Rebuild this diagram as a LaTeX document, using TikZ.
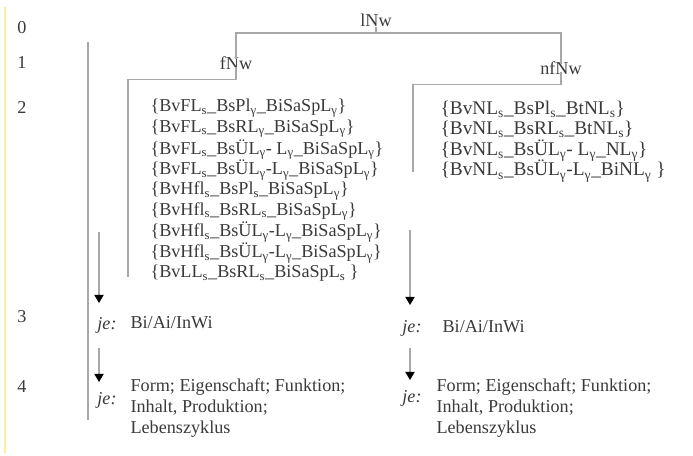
\documentclass[tikz,border=0pt]{standalone}
\usepackage{fontspec}
\setmainfont{Liberation Serif}
\usepackage{xcolor}
\definecolor{LINEcolor}{HTML}{a8a8a8}
\definecolor{TXTcolor}{HTML}{3a3a3a}
\definecolor{MARGINcolor}{HTML}{fbf0a0}
\usepackage{tikz}
\usetikzlibrary{%
    calc,
    math,
    arrows.meta
}
\newcommand{\sbs}[1]{\textsubscript{#1}}

\begin{document}
\begin{tikzpicture}[x=0.03cm, y=-0.03cm, line width=1pt,
    every node/.style={text=TXTcolor, inner sep=0pt, font=\fontsize{15.5}{17.7}\selectfont},
    tree/.style={draw=LINEcolor},
    arr/.style={draw=LINEcolor, -{Triangle[black, width=8pt, length=7pt]}}]
    \tikzmath{%
        \xnum=22;
        \xmain=88;
        % Listen links und rechts
        \xfl=128;
        \xft=150;
        \xnfl=413;
        \xnft=440;
        \ylist=108;
        \dline=20.7;
        % Pfeile
        \xal=99;
        \xar=410;
    };

    \useasboundingbox (0, 0) rectangle (693, 456);
    \draw [MARGINcolor, line width=1.5pt] (5, 7) -- (5, 453);

    % Ebenen
    \foreach \n/\y in {0/28, 1/63, 2/107, 3/317, 4/387} {%
            \node (lvl\n) at (\xnum, \y) {\n};
        }
    \coordinate (mainTop) at (\xmain, 42);
    \coordinate (mainBot) at (\xmain, 420);
    \draw [tree] (mainTop) -- (mainBot);

    % Baum
    \node (lNw) at (376, 20) {lNw};
    \node (fNw) at (236, 63) {fNw};
    \node (nfNw) at (561, 68) {nfNw};
    \coordinate (top) at (0, 33);
    \draw [tree] (lNw.south) -- (lNw.south |- top);
    \draw [tree] ([yshift=-3pt] fNw.north) |- (nfNw.north |- top) -- ([yshift=-3pt] nfNw.north);

    \coordinate (fEnd) at (\xfl, 277);
    \coordinate (nfEnd) at (\xnfl, 172);
    \draw [tree] ([yshift=3pt] fNw.south) -- ++(0, 13) -| (fEnd);
    \draw [tree] ([yshift=3pt] nfNw.south) -- ++(0, 13) -| (nfEnd);

    % fNw Liste
    \foreach \t [count=\i from 0] in {%
            {\{BvFL\sbs{s}\_BsPl\sbs{γ}\_BiSaSpL\sbs{γ}\}},
            {\{BvFL\sbs{s}\_BsRL\sbs{γ}\_BiSaSpL\sbs{γ}\}},
            {\{BvFL\sbs{s}\_BsÜL\sbs{γ}- L\sbs{γ}\_BiSaSpL\sbs{γ}\}},
            {\{BvFL\sbs{s}\_BsÜL\sbs{γ}-L\sbs{γ}\_BiSaSpL\sbs{γ}\}},
            {\{BvHfl\sbs{s}\_BsPl\sbs{s}\_BiSaSpL\sbs{γ}\}},
            {\{BvHfl\sbs{s}\_BsRL\sbs{s}\_BiSaSpL\sbs{γ}\}},
            {\{BvHfl\sbs{s}\_BsÜL\sbs{γ}-L\sbs{γ}\_BiSaSpL\sbs{γ}\}},
            {\{BvHfl\sbs{s}\_BsÜL\sbs{γ}-L\sbs{γ}\_BiSaSpL\sbs{γ}\}},
            {\{BvLL\sbs{s}\_BsRL\sbs{s}\_BiSaSpL\sbs{s} \}}} {%
            \node (fL\i) [anchor=west] at (\xft, \ylist+\i*\dline) {\t};
        }
    % nfNw Liste
    \foreach \t [count=\i from 0] in {%
            {\{BvNL\sbs{s}\_BsPl\sbs{s}\_BtNL\sbs{s}\}},
            {\{BvNL\sbs{s}\_BsRL\sbs{s}\_BtNL\sbs{s}\}},
            {\{BvNL\sbs{s}\_BsÜL\sbs{γ}- L\sbs{γ}\_NL\sbs{γ}\}},
            {\{BvNL\sbs{s}\_BsÜL\sbs{γ}-L\sbs{γ}\_BiNL\sbs{γ} \}}} {%
            \node (nfL\i) [anchor=west, font=\fontsize{16.5}{18}\selectfont] at (\xnft, \ylist+\i*\dline+1) {\t};
        }

    % Ebene 3 und 4, links
    \node (jeL3) at (107, 325) {\textit{je:}};
    \node (biL) [anchor=west] at (130, 323) {Bi/Ai/InWi};
    \node (jeL4) at (107, 400) {\textit{je:}};
    \node (prL) [anchor=west, align=left] at (130, 408) {Form; Eigenschaft; Funktion;\\Inhalt, Produktion;\\Lebenszyklus};
    % rechts
    \node (jeR3) at (412, 328) {\textit{je:}};
    \node (biR) [anchor=west] at (442, 327) {Bi/Ai/InWi};
    \node (jeR4) at (412, 398) {\textit{je:}};
    \node (prR) [anchor=west, align=left] at (436, 408) {Form; Eigenschaft; Funktion;\\Inhalt, Produktion;\\Lebenszyklus};

    % Pfeile
    \coordinate (aL3) at (\xal, 232);
    \coordinate (aL4) at (\xal, 348);
    \coordinate (aR3) at (\xar, 230);
    \coordinate (aR4) at (\xar, 348);
    \draw [arr] (aL3) -- (aL3 |- 0, 303);
    \draw [arr] (aL4) -- (aL4 |- 0, 382);
    \draw [arr] (aR3) -- (aR3 |- 0, 305);
    \draw [arr] (aR4) -- (aR4 |- 0, 380);
\end{tikzpicture}
\end{document}
